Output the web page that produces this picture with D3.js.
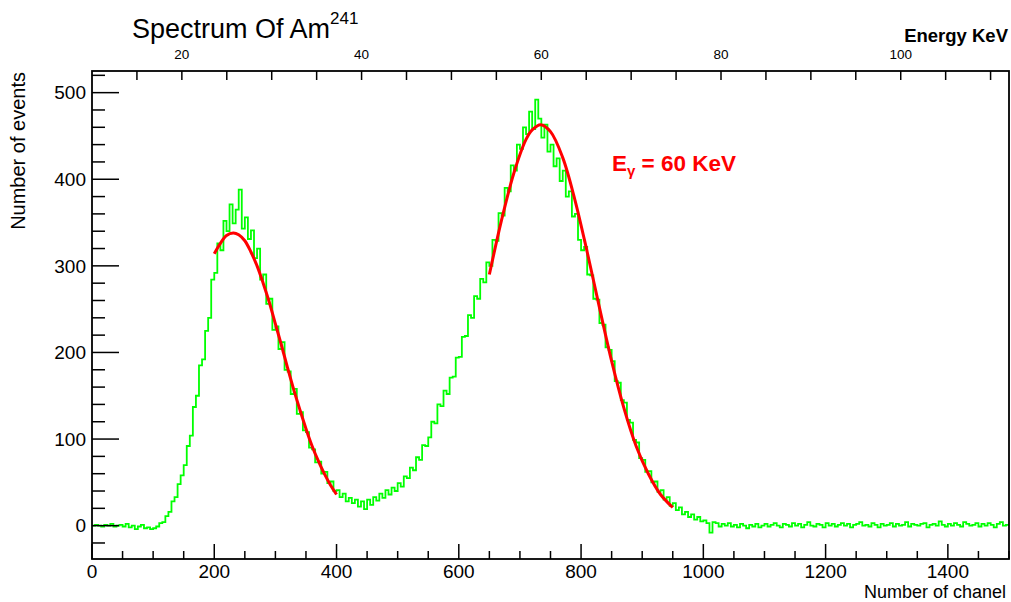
<!DOCTYPE html>
<html>
<head>
<meta charset="utf-8">
<script src="https://cdn.jsdelivr.net/npm/d3@7"></script>
<style>
  html, body { margin: 0; padding: 0; background: #fff; }
  svg { display: block; font-family: "Liberation Sans", Arial, Helvetica, sans-serif; }
</style>
</head>
<body>
<svg id="chart" width="1011" height="602"></svg>
<script>
// ---- Data ----
const binWidth = 5;            // channels per bin
const channelRange = [0, 1500];
const countRange = [-38.5, 525];
const energyRange = [10, 112.05];   // keV, top axis calibration

// histogram counts, 300 bins of 5 channels (0..1500)
const counts = [
  0, 1, 0, -1, 1, 0, 2, -1, 0, 1,
  -1, 2, -2, 0, -4, -1, 1, -3, -2, -4,
  -3, -1, 3, 4, 11, 16, 28, 33, 48, 58,
  70, 92, 104, 137, 150, 185, 192, 225, 240, 284,
  292, 326, 318, 352, 340, 371, 349, 365, 388, 343,
  356, 331, 341, 309, 320, 284, 290, 256, 262, 226,
  230, 204, 212, 180, 178, 152, 158, 129, 131, 110,
  108, 90, 88, 73, 74, 60, 62, 49, 51, 40,
  41, 33, 37, 28, 32, 26, 30, 22, 28, 19,
  30, 24, 33, 29, 37, 32, 41, 36, 44, 40,
  49, 45, 57, 55, 67, 64, 79, 76, 93, 92,
  102, 120, 118, 140, 138, 156, 152, 171, 172, 194,
  195, 218, 219, 243, 240, 265, 262, 285, 281, 304,
  300, 330, 329, 361, 358, 390, 386, 416, 410, 440,
  435, 460, 452, 478, 458, 492, 470, 448, 463, 432,
  440, 415, 424, 398, 410, 380, 386, 357, 360, 330,
  318, 322, 290, 289, 262, 261, 234, 232, 206, 203,
  190, 167, 165, 145, 142, 122, 119, 99, 96, 78,
  76, 62, 63, 50, 51, 39, 41, 30, 33, 23,
  26, 18, 21, 13, 16, 10, 13, 7, 10, 5,
  6, 3, -8, 4, 3, -1, 2, 0, 3, -1,
  1, -2, 2, 0, -3, 1, -1, 2, -2, 0,
  2, -1, 1, 3, 0, -2, 2, 1, -1, 3,
  0, 2, -2, 1, 4, 0, -1, 2, 1, -2,
  3, 0, 2, -1, 1, 3, 0, 2, -2, 1,
  2, 4, 0, 1, -1, 3, 1, -2, 2, 0,
  1, 3, -1, 2, 0, 1, 4, -1, 2, 1,
  0, 2, 3, -2, 1, 2, 0, 5, 1, -1,
  2, 0, 3, 1, -1, 4, 2, 0, 1, 3,
  -1, 2, 0, 3, 1, -2, 2, 4, 0, 1
];

// fit curve 1 (first peak), points [channel, counts]
const fit1Ch  = [200, 210, 220, 231, 240, 250, 260, 270, 280, 290, 300, 310, 320, 330, 340, 350, 360, 370, 380, 390, 400];
const fit1Val = [314, 326, 335, 338, 336, 329, 316, 300, 280, 258, 233, 208, 182, 157, 134, 112, 92, 75, 60, 47, 36];

// fit curve 2 (60 keV peak)
const fit2Ch  = [650, 670, 690, 710, 720, 734, 750, 770, 790, 810, 830, 850, 870, 890, 910, 930, 950];
const fit2Val = [290, 353, 407, 446, 457, 463, 455, 425, 376, 316, 252, 190, 136, 92, 60, 36, 21];

const xTicksMajor = [0, 200, 400, 600, 800, 1000, 1200, 1400];
const yTicksMajor = [0, 100, 200, 300, 400, 500];
const eTicksMajor = [20, 40, 60, 80, 100];

// ---- Layout ----
const svg = d3.select("#chart");
const L = 92, R = 1009, T = 71, B = 559;

const x = d3.scaleLinear().domain(channelRange).range([L, R]);
const y = d3.scaleLinear().domain(countRange).range([B, T]);
const xe = d3.scaleLinear().domain(energyRange).range([L, R]);

// ---- Histogram (step line) ----
const pts = counts.map((v, i) => [i * binWidth, v]);
pts.push([counts.length * binWidth, counts[counts.length - 1]]);
const stepLine = d3.line().x(d => x(d[0])).y(d => y(d[1])).curve(d3.curveStepAfter);

svg.append("defs").append("clipPath").attr("id", "clip")
  .append("rect").attr("x", L).attr("y", T).attr("width", R - L).attr("height", B - T);

svg.append("path")
  .attr("d", stepLine(pts))
  .attr("fill", "none")
  .attr("stroke", "#00ff00")
  .attr("stroke-width", 1.8)
  .attr("clip-path", "url(#clip)");

// ---- Fits ----
const fitLine = d3.line().x(d => x(d[0])).y(d => y(d[1])).curve(d3.curveCatmullRom);
[[fit1Ch, fit1Val], [fit2Ch, fit2Val]].forEach(([c, v]) => {
  svg.append("path")
    .attr("d", fitLine(c.map((ch, i) => [ch, v[i]])))
    .attr("fill", "none")
    .attr("stroke", "#ff0000")
    .attr("stroke-width", 3);
});

// ---- Frame ----
svg.append("rect")
  .attr("x", L).attr("y", T).attr("width", R - L).attr("height", B - T)
  .attr("fill", "none").attr("stroke", "#000").attr("stroke-width", 1.8);

const tickG = svg.append("g").attr("stroke", "#000").attr("stroke-width", 1.5);

// bottom axis ticks (pointing up)
d3.range(0, 1501, 50).forEach(v => {
  const major = v % 200 === 0;
  tickG.append("line")
    .attr("x1", x(v)).attr("x2", x(v))
    .attr("y1", B).attr("y2", B - (major ? 15 : 8));
});
// left axis ticks (pointing right)
d3.range(-20, 521, 20).forEach(v => {
  const major = v % 100 === 0;
  tickG.append("line")
    .attr("x1", L).attr("x2", L + (major ? 27 : 13))
    .attr("y1", y(v)).attr("y2", y(v));
});
// top energy axis ticks (pointing down)
d3.range(15, 111, 5).forEach(v => {
  tickG.append("line")
    .attr("x1", xe(v)).attr("x2", xe(v))
    .attr("y1", T).attr("y2", T + 9);
});

// ---- Labels ----
const lab = svg.append("g").attr("fill", "#000");
xTicksMajor.forEach(v => {
  lab.append("text").attr("x", x(v)).attr("y", 578)
    .attr("text-anchor", "middle").attr("font-size", 19).text(v);
});
yTicksMajor.forEach(v => {
  lab.append("text").attr("x", 86).attr("y", y(v))
    .attr("dy", "0.36em")
    .attr("text-anchor", "end").attr("font-size", 19).text(v);
});
eTicksMajor.forEach(v => {
  lab.append("text").attr("x", xe(v)).attr("y", 59)
    .attr("text-anchor", "middle").attr("font-size", 13.5).text(v);
});

// axis titles
lab.append("text").attr("x", 1006).attr("y", 597.5)
  .attr("text-anchor", "end").attr("font-size", 18).text("Number of chanel");
lab.append("text")
  .attr("transform", "translate(25,72) rotate(-90)")
  .attr("text-anchor", "end").attr("font-size", 20).text("Number of events");
lab.append("text").attr("x", 1008).attr("y", 42)
  .attr("text-anchor", "end").attr("font-size", 18.5).attr("font-weight", "bold")
  .text("Energy KeV");

// title
const title = lab.append("text").attr("x", 132).attr("y", 38).attr("font-size", 27);
title.append("tspan").text("Spectrum Of Am");
title.append("tspan").attr("dy", -14).attr("font-size", 17).text("241");

// annotation
const ann = svg.append("text").attr("x", 612).attr("y", 171)
  .attr("font-size", 22.5).attr("font-weight", "bold").attr("fill", "#ff0000");
ann.append("tspan").text("E");
ann.append("tspan").attr("dy", 5).attr("font-size", 15).text("γ");
ann.append("tspan").attr("dy", -5).text(" = 60 KeV");
</script>
</body>
</html>
